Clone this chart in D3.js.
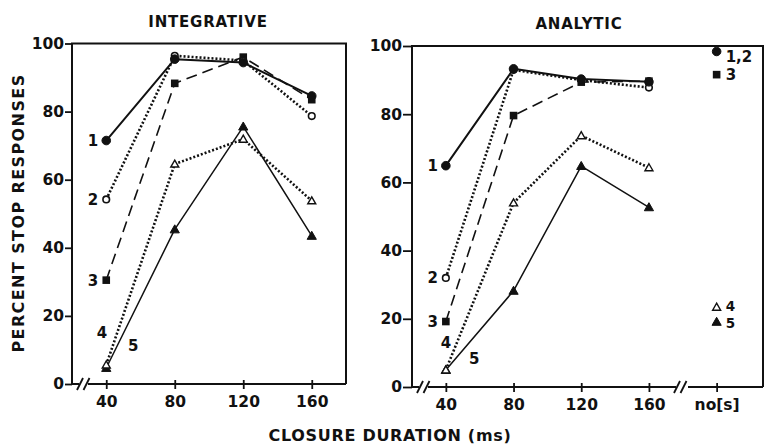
<!DOCTYPE html>
<html><head><meta charset="utf-8">
<script src="https://cdn.jsdelivr.net/npm/d3@7"></script>
<style>
html,body{margin:0;padding:0;background:#fff;}
svg text{font-family:"DejaVu Sans",sans-serif;font-weight:bold;fill:#111;}
</style></head>
<body><svg id="c" width="765" height="445"></svg>
<script>
// ---- data ----
const closureDurations = [40, 80, 120, 160];
const xTickLabels = ["40", "80", "120", "160"];
const noSilenceLabel = "no[s]";
const yTicks = [0, 20, 40, 60, 80, 100];
const seriesNames = ["1", "2", "3", "4", "5"];

const integrative1 = [71.5, 95.4, 94.4, 84.6];
const integrative2 = [54.2, 96.4, 95.0, 78.7];
const integrative3 = [30.5, 88.3, 96.0, 83.5];
const integrative4 = [5.6, 64.6, 71.9, 53.8];
const integrative5 = [4.7, 45.4, 75.6, 43.5];

const analytic1 = [64.9, 93.3, 90.3, 89.5];
const analytic2 = [32.0, 93.0, 90.0, 87.8];
const analytic3 = [19.2, 79.6, 89.4, 89.7];
const analytic4 = [5.0, 54.0, 73.7, 64.3];
const analytic5 = [5.0, 28.2, 64.8, 52.7];

const noSilenceNames = ["1,2", "3", "4", "5"];
const noSilenceValues = [98.4, 91.6, 23.4, 19.1];

// ---- styles ----
const styles = [
  {marker: "circle", fill: true, dash: null, width: 2},
  {marker: "circle", fill: false, dash: "2,2", width: 2.6},
  {marker: "square", fill: true, dash: "11,6", width: 1.6},
  {marker: "triangle", fill: false, dash: "2,2", width: 2.6},
  {marker: "triangle", fill: true, dash: null, width: 1.5}
];

const svg = d3.select("#c");
const ink = "#111";

function marker(g, type, fill, x, y) {
  if (type === "circle") {
    g.append("circle").attr("cx", x).attr("cy", y).attr("r", fill ? 4.3 : 3.3)
      .attr("fill", fill ? ink : "#fff").attr("stroke", ink).attr("stroke-width", fill ? 1 : 1.6);
  } else if (type === "square") {
    g.append("rect").attr("x", x - 3.8).attr("y", y - 3.8).attr("width", 7.6).attr("height", 7.6)
      .attr("fill", ink);
  } else {
    const s = fill ? 4.6 : 4.0;
    g.append("path").attr("d", `M${x},${y - s} L${x + s},${y + s * 0.75} L${x - s},${y + s * 0.75}Z`)
      .attr("fill", fill ? ink : "#fff").attr("stroke", ink).attr("stroke-width", fill ? 1 : 1.4);
  }
}

function panel(cfg) {
  const g = svg.append("g");
  const x = d3.scaleLinear().domain(cfg.xDomain).range(cfg.xRange);
  const y = d3.scaleLinear().domain([0, 100]).range(cfg.yRange);
  const x0 = cfg.xRange[0], x1 = cfg.frameRight;
  const [yb, yt] = cfg.yRange;

  // frame: left, top, right
  g.append("path").attr("d", `M${x0},${yb} L${x0},${yt} L${x1},${yt} L${x1},${yb}`)
    .attr("fill", "none").attr("stroke", ink).attr("stroke-width", 2);

  // bottom axis with breaks
  cfg.bottomSegments.forEach(s => {
    g.append("line").attr("x1", s[0]).attr("x2", s[1]).attr("y1", yb).attr("y2", yb)
      .attr("stroke", ink).attr("stroke-width", 2);
  });
  cfg.breaks.forEach(bx => {
    [0, 6.5].forEach(o => {
      g.append("line").attr("x1", bx + o - 3).attr("y1", yb + 6).attr("x2", bx + o + 3).attr("y2", yb - 6)
        .attr("stroke", ink).attr("stroke-width", 1.8);
    });
  });

  // y axis ticks
  const ya = g.append("g").attr("transform", `translate(${x0},0)`)
    .call(d3.axisLeft(y).tickValues(yTicks).tickSize(cfg.yTickLen).tickPadding(1));
  ya.select(".domain").remove();
  ya.selectAll(".tick line").attr("stroke", ink).attr("stroke-width", 1.8);
  ya.selectAll(".tick text").attr("font-size", 15.5).attr("font-family", "DejaVu Sans").attr("font-weight", "bold").attr("fill", ink);

  // x axis ticks
  const xa = g.append("g").attr("transform", `translate(0,${yb})`)
    .call(d3.axisBottom(x).tickValues(cfg.xTickValues).tickFormat((d, i) => cfg.xTickText[i]).tickSize(4).tickPadding(0));
  xa.select(".domain").remove();
  xa.selectAll(".tick line").attr("y1", -4).attr("y2", 5).attr("stroke", ink).attr("stroke-width", 1.8);
  xa.selectAll(".tick text").attr("font-size", 15.5).attr("font-family", "DejaVu Sans").attr("font-weight", "bold").attr("fill", ink)
    .attr("dy", "1.25em");

  // title
  g.append("text").attr("x", cfg.titleX).attr("y", cfg.titleY).attr("text-anchor", "middle")
    .attr("font-size", 15).attr("letter-spacing", 0.8).text(cfg.title);

  // lines
  const line = d3.line().x((d, i) => x(closureDurations[i])).y(d => y(d));
  cfg.series.forEach((vals, k) => {
    const st = styles[k];
    g.append("path").attr("d", line(vals)).attr("fill", "none").attr("stroke", ink)
      .attr("stroke-width", st.width).attr("stroke-dasharray", st.dash).attr("stroke-linejoin", "round");
  });
  // markers (series 1 drawn last so it sits on top)
  [4, 3, 2, 1, 0].forEach(k => {
    const st = styles[k];
    cfg.series[k].forEach((v, i) => marker(g, st.marker, st.fill, x(closureDurations[i]), y(v)));
  });
  // series number labels next to first point (1-3)
  [0, 1, 2].forEach(k => {
    g.append("text").attr("x", x(closureDurations[0]) - 8).attr("y", y(cfg.series[k][0]))
      .attr("dy", "0.36em").attr("text-anchor", "end").attr("font-size", 15).text(seriesNames[k]);
  });
  // labels 4 & 5
  cfg.lab45.forEach((p, j) => {
    g.append("text").attr("x", x(p[0])).attr("y", y(p[1])).attr("dy", "0.36em")
      .attr("text-anchor", "middle").attr("font-size", 15).text(seriesNames[3 + j]);
  });
  return {g, x, y};
}

panel({
  title: "INTEGRATIVE", titleX: 208, titleY: 27,
  xDomain: [20, 180], xRange: [72, 346], frameRight: 346, yRange: [384, 43.5],
  yTickLen: 7,
  bottomSegments: [[72, 79], [88, 346]],
  breaks: [80],
  xTickValues: closureDurations, xTickText: xTickLabels,
  series: [integrative1, integrative2, integrative3, integrative4, integrative5],
  lab45: [[37.5, 15], [55.8, 11.2]]
});

const right = panel({
  title: "ANALYTIC", titleX: 579, titleY: 29,
  xDomain: [20, 230], xRange: [412, 767.4], frameRight: 763, yRange: [387, 46],
  yTickLen: 9,
  bottomSegments: [[412, 419], [428, 676], [688, 763]],
  breaks: [420, 677],
  xTickValues: closureDurations.concat([200]), xTickText: xTickLabels.concat([noSilenceLabel]),
  series: [analytic1, analytic2, analytic3, analytic4, analytic5],
  lab45: [[40, 13], [56.8, 8.4]]
});

// no[s] points
const nsMarkers = [["circle", true], ["square", true], ["triangle", false], ["triangle", true]];
const nsDy = [5, 0, -1.5, 1.5];
noSilenceValues.forEach((v, i) => {
  const px = right.x(200), py = right.y(v);
  marker(right.g, nsMarkers[i][0], nsMarkers[i][1], px, py);
  right.g.append("text").attr("x", px + 9).attr("y", py + nsDy[i]).attr("dy", "0.36em")
    .attr("font-size", i >= 2 ? 13.5 : 15).text(noSilenceNames[i]);
});

// axis titles
svg.append("text").attr("transform", "translate(24,213) rotate(-90)").attr("text-anchor", "middle")
  .attr("font-size", 16).attr("letter-spacing", 1.4).text("PERCENT STOP RESPONSES");
svg.append("text").attr("x", 390).attr("y", 441).attr("text-anchor", "middle")
  .attr("font-size", 16).attr("letter-spacing", 0.7).text("CLOSURE DURATION (ms)");
</script></body></html>
